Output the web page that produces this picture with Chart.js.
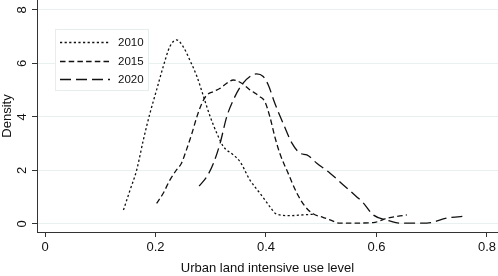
<!DOCTYPE html>
<html>
<head>
<meta charset="utf-8">
<script src="https://cdn.jsdelivr.net/npm/chart.js@4"></script>
<style>
html,body{margin:0;padding:0;background:#fff;}
#wrap{width:498px;height:276px;position:relative;}
</style>
</head>
<body>
<div id="wrap"><canvas id="c"></canvas></div>
<script>
const seriesNames = ['2010', '2015', '2020'];
const xTicks = [0, 0.2, 0.4, 0.6, 0.8];
const yTicks = [0, 2, 4, 6, 8];

const x2010 = [0.142,0.154,0.166,0.178,0.190,0.202,0.214,0.226,0.238,0.250,0.262,0.275,0.287,0.299,0.311,0.323,0.341,0.353,0.371,0.389,0.407,0.419,0.443,0.467,0.485];
const y2010 = [0.52,1.27,2.02,3.14,4.14,5.01,5.88,6.63,6.88,6.63,6.13,5.51,4.76,4.01,3.39,2.89,2.58,2.33,1.64,1.15,0.65,0.37,0.31,0.34,0.36];

const x2015 = [0.202,0.214,0.226,0.238,0.247,0.256,0.266,0.275,0.284,0.293,0.305,0.317,0.329,0.341,0.356,0.371,0.389,0.398,0.407,0.416,0.425,0.440,0.456,0.471,0.486,0.503,0.516,0.534,0.594,0.618,0.655];
const y2015 = [0.77,1.15,1.64,2.02,2.27,2.77,3.39,4.01,4.51,4.82,4.95,5.07,5.26,5.38,5.26,5.01,4.76,4.57,4.01,3.26,2.64,1.90,1.15,0.65,0.37,0.25,0.15,0.03,0.05,0.21,0.34];

const x2020 = [0.279,0.293,0.305,0.317,0.329,0.341,0.356,0.371,0.383,0.395,0.404,0.416,0.431,0.447,0.462,0.474,0.492,0.516,0.540,0.564,0.576,0.594,0.618,0.643,0.691,0.728,0.764];
const y2020 = [1.42,1.77,2.27,3.02,4.01,4.64,5.20,5.51,5.61,5.51,5.20,4.51,3.76,3.02,2.64,2.58,2.27,1.90,1.46,1.02,0.79,0.34,0.15,0.03,0.03,0.22,0.30];

const xTitle = 'Urban land intensive use level';
const yTitle = 'Density';

function pts(xs, ys){ return xs.map((v,i)=>({x:v, y:ys[i]})); }

const FONT = '"Liberation Sans", Arial, sans-serif';
const dashes = [[2.2,2.4],[5.5,3.2],[11,5]];
const allX = [x2010, x2015, x2020];
const allY = [y2010, y2015, y2020];

const datasets = seriesNames.map((n,i)=>({
  label: n,
  data: pts(allX[i], allY[i]),
  borderColor: '#111',
  borderWidth: 1.3,
  borderDash: dashes[i],
  pointRadius: 0,
  fill: false,
  tension: 0.35,
  cubicInterpolationMode: 'monotone'
}));

const legendPlugin = {
  id: 'insideLegend',
  afterDatasetsDraw(chart){
    const ctx = chart.ctx;
    ctx.save();
    const bx = 55, by = 29, bw = 93, bh = 61;
    ctx.fillStyle = '#fff';
    ctx.fillRect(bx, by, bw, bh);
    ctx.strokeStyle = '#e6eded';
    ctx.lineWidth = 1;
    ctx.strokeRect(bx+0.5, by+0.5, bw, bh);
    const rows = [42, 61, 79];
    chart.data.datasets.forEach((ds,i)=>{
      const y = rows[i] + 0.5;
      ctx.strokeStyle = ds.borderColor;
      ctx.lineWidth = ds.borderWidth;
      ctx.setLineDash(ds.borderDash);
      ctx.beginPath();
      ctx.moveTo(60, y);
      ctx.lineTo(110, y);
      ctx.stroke();
      ctx.setLineDash([]);
      ctx.fillStyle = '#111';
      ctx.font = '11.5px ' + FONT;
      ctx.textBaseline = 'middle';
      ctx.textAlign = 'left';
      ctx.fillText(ds.label, 118, y);
    });
    ctx.restore();
  }
};

new Chart(document.getElementById('c'), {
  type: 'line',
  data: { datasets },
  plugins: [legendPlugin],
  options: {
    responsive: true,
    maintainAspectRatio: false,
    animation: false,
    layout: { padding: 0 },
    plugins: { legend: { display: false }, tooltip: { enabled: false } },
    scales: {
      x: {
        type: 'linear',
        min: -0.0145,
        max: 0.82,
        afterBuildTicks(s){ s.ticks = xTicks.map(v=>({value:v})); },
        afterFit(s){ s.height = 44; s.paddingLeft = 0; s.paddingRight = 0; },
        grid: { drawOnChartArea: false, drawTicks: true, tickLength: 5, tickColor: '#333' },
        border: { display: true, color: '#333', width: 1 },
        ticks: { color: '#111', font: { size: 13, family: FONT }, padding: 3, maxRotation: 0, autoSkip: false,
          callback: v => v === 0 ? '0' : Number(v).toFixed(1) },
        title: { display: true, text: xTitle, color: '#111', font: { size: 13, family: FONT }, padding: { top: 6, bottom: 0 } }
      },
      y: {
        type: 'linear',
        min: -0.3,
        max: 8.37,
        afterBuildTicks(s){ s.ticks = yTicks.map(v=>({value:v})); },
        afterFit(s){ s.width = 37; s.paddingTop = 0; s.paddingBottom = 0; },
        grid: { color: '#e8f0f0', lineWidth: 1, drawTicks: true, tickLength: 5, tickColor: '#333' },
        border: { display: true, color: '#333', width: 1 },
        ticks: { color: '#111', font: { size: 13, family: FONT }, padding: 6, minRotation: 90, maxRotation: 90, autoSkip: false,
          crossAlign: 'center', callback: v => String(v) },
        title: { display: true, text: yTitle, color: '#111', font: { size: 13, family: FONT }, padding: { top: 0, bottom: 2 } }
      }
    }
  }
});
</script>
</body>
</html>
